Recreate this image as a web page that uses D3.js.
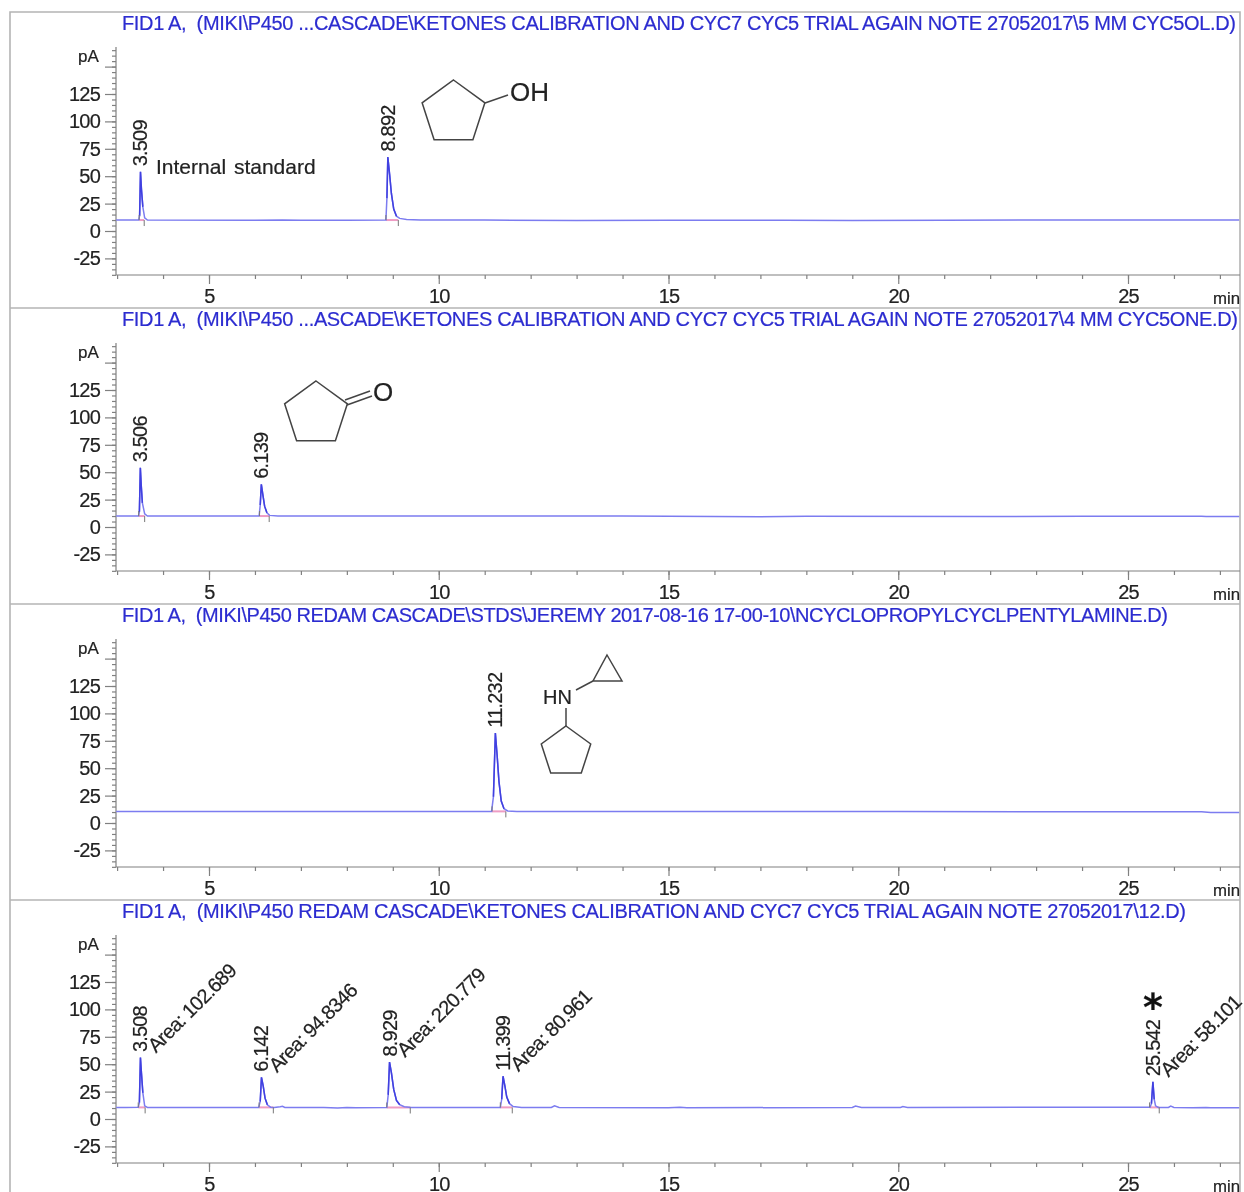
<!DOCTYPE html>
<html>
<head>
<meta charset="utf-8">
<script src="https://cdn.jsdelivr.net/npm/d3@7"></script>
<style>
  html, body { margin: 0; padding: 0; background: #fff; }
  svg { display: block; filter: blur(0.45px); }
  text { font-family: "Liberation Sans", Arial, sans-serif; fill: #222; stroke: #222; stroke-width: 0.2; }
  .title { fill: #2c2cd0; stroke: #2c2cd0; font-size: 20px; white-space: pre; }
  .tick-label { font-size: 20px; letter-spacing: -0.8px; }
  .domain, .tick line { stroke: #808080; stroke-width: 1.2; }
  .struct { fill: none; stroke: #444; stroke-width: 1.5; }
</style>
</head>
<body>
<div class="container"></div>
<script>
var titles = [
  'FID1 A,  (MIKI\\P450 ...CASCADE\\KETONES CALIBRATION AND CYC7 CYC5 TRIAL AGAIN NOTE 27052017\\5 MM CYC5OL.D)',
  'FID1 A,  (MIKI\\P450 ...ASCADE\\KETONES CALIBRATION AND CYC7 CYC5 TRIAL AGAIN NOTE 27052017\\4 MM CYC5ONE.D)',
  'FID1 A,  (MIKI\\P450 REDAM CASCADE\\STDS\\JEREMY 2017-08-16 17-00-10\\NCYCLOPROPYLCYCLPENTYLAMINE.D)',
  'FID1 A,  (MIKI\\P450 REDAM CASCADE\\KETONES CALIBRATION AND CYC7 CYC5 TRIAL AGAIN NOTE 27052017\\12.D)'
];
var titleWidths = [1114, 1116, 1046, 1064];

var xMajor = [5, 10, 15, 20, 25];
var yMajor = [-25, 0, 25, 50, 75, 100, 125, 150];
var yLabels = [-25, 0, 25, 50, 75, 100, 125];

// traces (min, pA)
var time1 = [2.98, 3.47, 3.49, 3.509, 3.53, 3.56, 3.6, 3.66, 6, 6.6, 7, 8.0, 8.85, 8.872, 8.892, 8.93, 8.97, 9.02, 9.08, 9.15, 9.3, 9.6, 11, 13, 15, 17.5, 19, 21, 24, 27.42];
var signal1 = [10, 10, 14, 54, 38, 22, 12, 10, 9.8, 10.1, 9.8, 9.8, 10, 30, 67.5, 52, 34, 20, 13.5, 11.5, 10.6, 10, 10, 9.6, 9.9, 9.8, 9.6, 9.9, 10, 10];

var time2 = [2.98, 3.465, 3.485, 3.506, 3.525, 3.55, 3.6, 3.66, 6.09, 6.115, 6.139, 6.17, 6.21, 6.26, 6.32, 6.5, 10, 14, 17, 18, 22, 24, 26.6, 26.7, 27.42];
var signal2 = [10, 10, 14, 54, 38, 22, 12, 10, 10, 20, 39, 30, 19, 13, 10.6, 10.1, 10, 10, 9.4, 9.8, 9.5, 9.8, 9.9, 9.6, 9.6];

var time3 = [2.98, 6, 9, 11.15, 11.19, 11.232, 11.27, 11.31, 11.36, 11.42, 11.5, 11.7, 15, 20, 26.6, 26.8, 27.42];
var signal3 = [10.6, 10.6, 10.6, 10.6, 24, 82, 62, 38, 20, 13, 11, 10.6, 10.4, 10.4, 10.2, 9.6, 9.6];

var time4 = [2.98, 3.2, 3.46, 3.485, 3.508, 3.53, 3.56, 3.6, 3.66, 6.08, 6.115, 6.142, 6.18, 6.22, 6.27, 6.34, 6.42, 6.55, 6.6, 6.65, 7.5, 7.8, 8.0, 8.2, 8.87, 8.9, 8.929, 8.97, 9.02, 9.08, 9.15, 9.25, 9.4, 11.34, 11.37, 11.399, 11.44, 11.48, 11.54, 11.62, 11.8, 12.45, 12.52, 12.62, 15, 15.25, 15.4, 19, 19.07, 19.2, 20.05, 20.1, 20.2, 23, 25.48, 25.51, 25.542, 25.57, 25.6, 25.66, 25.88, 25.93, 26, 26.4, 26.7, 26.8, 27.42];
var signal4 = [10.6, 10.4, 10.6, 15, 56, 42, 24, 12, 10.6, 10.6, 16, 38, 30, 19, 13, 10.8, 10.6, 11.2, 11.6, 10.6, 10.6, 10, 10.5, 10.2, 10.4, 22, 52, 42, 27, 17, 13, 11.2, 10.5, 10.5, 18, 39, 30, 20, 14, 11.4, 10.6, 10.6, 12, 10.6, 10.2, 10.8, 10.2, 10.6, 11.8, 10.6, 10.6, 11.3, 10.6, 10.8, 10.8, 14, 34, 18, 12, 10.6, 10.6, 11.8, 10.6, 10.3, 10.6, 10.2, 10.2];

var traceTimes = [time1, time2, time3, time4];
var traceSignals = [signal1, signal2, signal3, signal4];

// retention time labels
var rtValues = [[3.509, 8.892], [3.506, 6.139], [11.232], [3.508, 6.142, 8.929, 11.399, 25.542]];
var rtLabels = [['3.509', '8.892'], ['3.506', '6.139'], ['11.232'], ['3.508', '6.142', '8.929', '11.399', '25.542']];
var rtHeights = [[54, 67.5], [54, 39], [82], [56, 38, 52, 39, 34]];

// integration start and end of each peak
var peakStart = [[3.48, 8.85], [3.47, 6.1], [11.16], [3.46, 6.09, 8.87, 11.34, 25.47]];
var peakEnd = [[3.59, 9.12], [3.6, 6.31], [11.46], [3.61, 6.4, 9.38, 11.6, 25.68]];
var peakBase = [[10, 10], [10, 10], [10.6], [10.6, 10.6, 10.5, 10.6, 10.6]];

var areaLabels = ['Area: 102.689', 'Area: 94.8346', 'Area: 220.779', 'Area: 80.961', 'Area: 58.101'];

var W = 1244, H = 1192, panelH = 296;

var x = d3.scaleLinear().domain([5, 25]).range([209, 1128]);
var y = d3.scaleLinear().domain([0, 125]).range([231, 94]);
var yBottom = 275, yTop = 47;

var svg = d3.select('.container').append('svg')
    .attr('width', W)
    .attr('height', H);

svg.append('rect').attr('width', W).attr('height', H).attr('fill', '#fff');

// frame
var frame = svg.append('g').attr('stroke', '#b4b4b4').attr('stroke-width', 1.6).attr('fill', 'none');
frame.append('path').attr('d', 'M10,1192V12H1240V1192');
d3.range(1, 4).forEach(function (i) {
  frame.append('path').attr('d', 'M10,' + (12 + i * panelH) + 'H1240');
});

var line = d3.line()
    .x(function (d) { return x(d[0]); })
    .y(function (d) { return y(d[1]); });

// the steep parts of a peak print darker than the baseline
var peakLine = d3.line()
    .defined(function (d) { return d[1] > 12.5; })
    .x(function (d) { return x(d[0]); })
    .y(function (d) { return y(d[1]); });

titles.forEach(function (title, i) {
  var g = svg.append('g').attr('transform', 'translate(0,' + i * panelH + ')');

  g.append('text')
      .attr('class', 'title')
      .attr('x', 122)
      .attr('y', 30)
      .attr('textLength', titleWidths[i])
      .attr('lengthAdjust', 'spacing')
      .text(title);

  // ----------
  // axes
  var yMinor = d3.axisLeft(y).tickValues(d3.range(-40, 170, 5)).tickSize(4).tickFormat('');
  g.append('g').attr('transform', 'translate(116,0)').call(yMinor)
      .call(function (a) { a.select('.domain').remove(); });

  var yAxis = d3.axisLeft(y).tickValues(yMajor).tickSize(11).tickPadding(5)
      .tickFormat(function (d) { return yLabels.indexOf(d) >= 0 ? d : ''; });
  g.append('g').attr('transform', 'translate(116,0)').call(yAxis)
      .call(function (a) {
        a.select('.domain').attr('d', 'M0,' + yTop + 'V' + yBottom);
        a.selectAll('text').attr('class', 'tick-label').attr('font-family', null);
      });

  var xTicks = d3.range(3, 28);
  var xAxisMinor = d3.axisBottom(x).tickValues(xTicks).tickSize(4).tickFormat('');
  g.append('g').attr('transform', 'translate(0,' + yBottom + ')').call(xAxisMinor)
      .call(function (a) { a.select('.domain').attr('d', 'M116,0H1240'); });

  var xAxis = d3.axisBottom(x).tickValues(xMajor).tickSize(9).tickPadding(5).tickFormat(d3.format('d'));
  g.append('g').attr('transform', 'translate(0,' + yBottom + ')').call(xAxis)
      .call(function (a) {
        a.select('.domain').remove();
        a.selectAll('text').attr('class', 'tick-label').attr('font-family', null);
      });

  g.append('text').attr('x', 78).attr('y', 62).style('font-size', '17px').text('pA');
  g.append('text').attr('x', 1240).attr('y', 303.5).attr('text-anchor', 'end').style('font-size', '16.8px').text('min');

  // ----------
  // integration baselines and markers
  rtValues[i].forEach(function (rt, k) {
    var s = x(peakStart[i][k]), e = x(peakEnd[i][k]), b = y(peakBase[i][k]);
    g.append('path').attr('d', 'M' + s + ',' + b + 'H' + e).attr('stroke', '#ee9cc4').attr('stroke-width', 2).attr('fill', 'none');
  });

  // trace
  var pts = d3.zip(traceTimes[i], traceSignals[i]);
  g.append('path')
      .attr('d', line(pts))
      .attr('fill', 'none')
      .attr('stroke', '#7c7cf0')
      .attr('stroke-width', 1.5);
  g.append('path')
      .attr('d', peakLine(pts))
      .attr('fill', 'none')
      .attr('stroke', '#4040e0')
      .attr('stroke-width', 1.5);

  rtValues[i].forEach(function (rt, k) {
    var s = x(peakStart[i][k]), e = x(peakEnd[i][k]), b = y(peakBase[i][k]);
    g.append('path').attr('d', 'M' + s + ',' + (b - 5) + 'V' + b).attr('stroke', '#777').attr('fill', 'none');
    g.append('path').attr('d', 'M' + e + ',' + b + 'V' + (b + 6)).attr('stroke', '#777').attr('fill', 'none');
  });

  // retention time labels
  rtValues[i].forEach(function (rt, k) {
    g.append('text')
        .attr('class', 'tick-label')
        .attr('transform', 'translate(' + (x(rt) + 7) + ',' + (y(rtHeights[i][k]) - 5.5) + ') rotate(-90)')
        .text(rtLabels[i][k]);
  });

  // area labels only on the last run
  if (i === 3) {
    rtValues[i].forEach(function (rt, k) {
      g.append('text')
          .attr('class', 'tick-label')
          .attr('transform', 'translate(' + (x(rt) + 15.5) + ',' + (y(rtHeights[i][k]) - 4) + ') rotate(-45)')
          .text(areaLabels[k]);
    });
  }
});

// ----------
// annotations and structures
svg.append('text').attr('x', 156).attr('y', 174).style('font-size', '21px').style('word-spacing', '2px').text('Internal standard');

function ringPath(cx, cy, r, n) {
  var pts = d3.range(n).map(function (k) {
    var a = -Math.PI / 2 + k * 2 * Math.PI / n;
    return [cx + r * Math.cos(a), cy + r * Math.sin(a)];
  });
  return d3.line()(pts) + 'Z';
}

function bond(x1, y1, x2, y2) {
  svg.append('path').attr('class', 'struct').attr('d', 'M' + x1 + ',' + y1 + 'L' + x2 + ',' + y2);
}

// cyclopentanol
svg.append('path').attr('class', 'struct').attr('d', ringPath(453.5, 113, 33, 5));
bond(485, 103, 508, 95);
svg.append('text').attr('x', 510).attr('y', 101).style('font-size', '26px').text('OH');

// cyclopentanone
svg.append('path').attr('class', 'struct').attr('d', ringPath(316, 414, 33, 5));
bond(345, 400, 370, 391);
bond(347, 405, 372, 396);
svg.append('text').attr('x', 373).attr('y', 401).style('font-size', '26px').text('O');

// amine
svg.append('path').attr('class', 'struct').attr('d', ringPath(566, 752, 26, 5));
svg.append('path').attr('class', 'struct').attr('d', 'M607,655L622,681H593Z');
bond(566, 708, 566, 726);
bond(593, 681, 576, 690);
svg.append('text').attr('x', 543).attr('y', 704).style('font-size', '20px').text('HN');

svg.append('text').attr('x', 1153).attr('y', 1020).attr('text-anchor', 'middle')
    .style('font-family', '"DejaVu Sans"').style('font-weight', 'bold').style('font-size', '38px').style('fill', '#111').text('*');
</script>
</body>
</html>
